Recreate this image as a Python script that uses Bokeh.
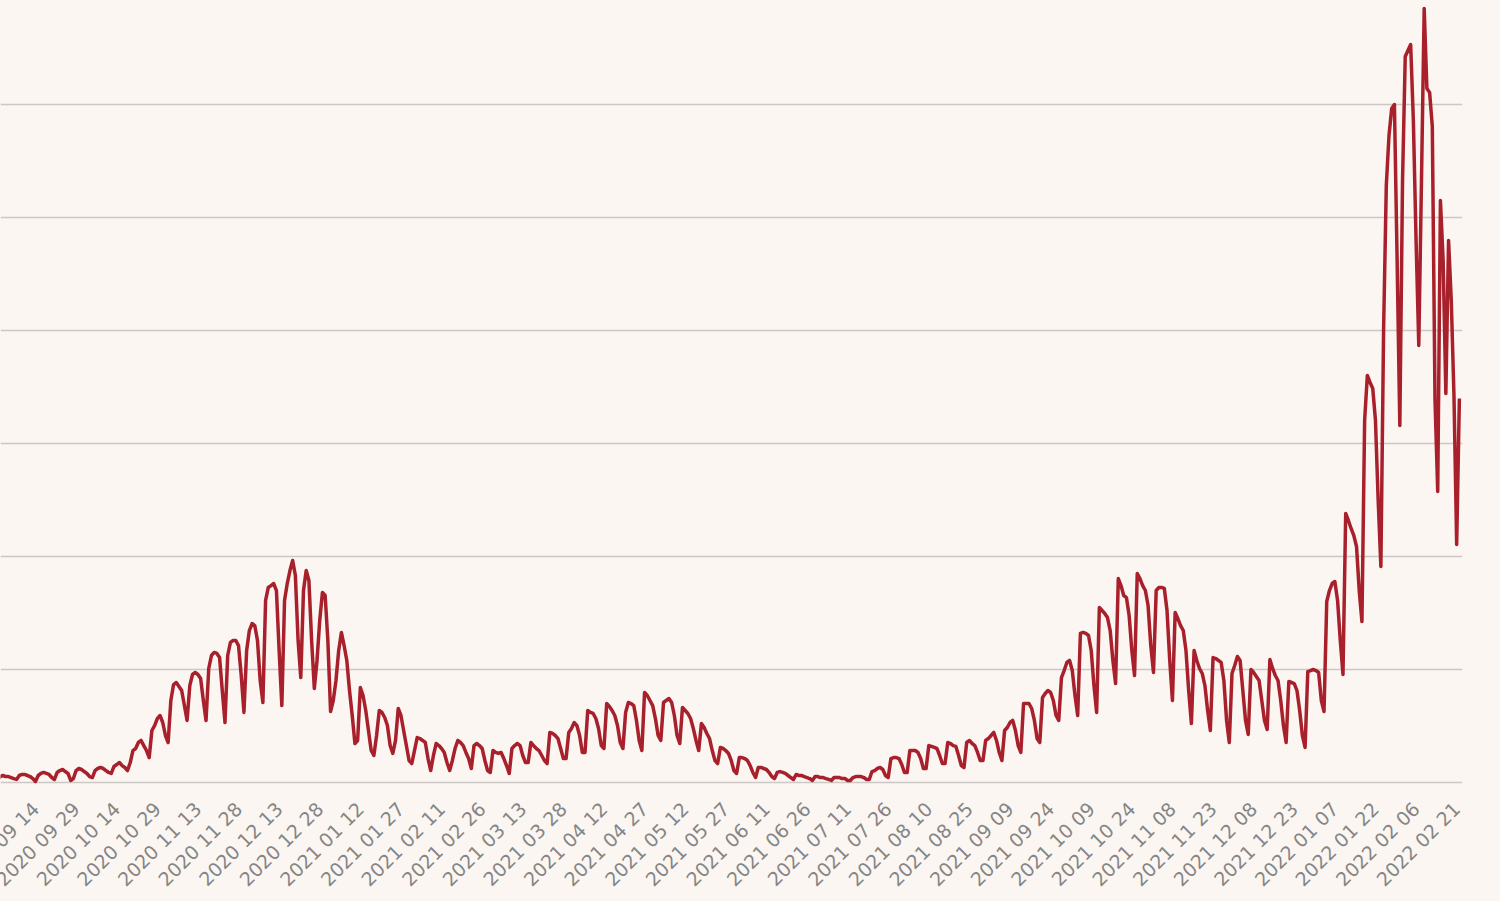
import math
import pandas as pd
from bokeh.plotting import figure
from bokeh.models import Range1d, FixedTicker, DatetimeTickFormatter
from bokeh.embed import file_html
from bokeh.resources import INLINE

# ---------------- data (daily values) ----------------
start_date = "2020-08-31"

cases_2020 = [
    270, 530, 620, 530, 530, 440, 350,
    270, 620, 710, 710, 620, 530, 350,
    90, 620, 800, 890, 800, 710, 440,
    270, 890, 1060, 1150, 970, 800, 180,
    350, 1060, 1240, 1150, 970, 800, 530,
    440, 1060, 1240, 1330, 1240, 1060, 890,
    800, 1420, 1590, 1770, 1500, 1330, 1060,
    1770, 2830, 3010, 3540, 3720, 3270, 2830,
    2210, 4600, 5040, 5660, 5930, 5310, 4160,
    3540, 7260, 8670, 8850, 8500, 8140, 6810,
    5490, 8580, 9560, 9740, 9560, 9200, 7260,
    5490, 10090, 11240, 11510, 11420, 11060, 8140,
    5310, 11240, 12390, 12570, 12570, 12120, 9470,
    6200, 11680, 13450, 14070, 13890, 12570, 9030,
    7080, 16110, 17260, 17430, 17610, 16990, 11680,
    6810, 16110, 17610, 18760, 19650, 18320, 12570,
    9290, 16990, 18760, 17880, 12570, 8320, 10800,
    14340, 16820, 16550, 12570,
]

cases_2021 = [
    6280, 7260, 9030,
    11680, 13280, 12120, 10800, 8140, 5930, 3450,
    3720, 8410, 7700, 6370, 4600, 2830, 2390,
    4160, 6370, 6200, 5750, 5040, 3270, 2570,
    3720, 6550, 5930, 4600, 3270, 1950, 1680,
    2830, 3980, 3890, 3720, 3540, 2120, 1060,
    2390, 3450, 3270, 3010, 2660, 1770, 1060,
    1950, 3010, 3720, 3540, 3270, 2660, 2120,
    1240, 3270, 3450, 3270, 3010, 1950, 1060,
    890, 2830, 2660, 2570, 2660, 2120, 1500,
    800, 3010, 3270, 3450, 3270, 2390, 1770,
    1770, 3540, 3270, 3010, 2830, 2390, 1950,
    1680, 4430, 4340, 4160, 3890, 3010, 2120,
    2120, 4430, 4780, 5310, 5040, 4160, 2660,
    2660, 6370, 6200, 6110, 5660, 4780, 3270,
    3010, 6990, 6730, 6370, 5930, 5040, 3540,
    3010, 6200, 7080, 6990, 6810, 5490, 3720,
    2830, 7970, 7700, 7260, 6810, 5660, 4160,
    3720, 7080, 7260, 7430, 7080, 5930, 4160,
    3450, 6640, 6370, 6110, 5660, 4780, 3720,
    2830, 5220, 4870, 4340, 3890, 2830, 1950,
    1680, 3100, 3010, 2830, 2570, 1950, 1060,
    800, 2210, 2210, 2120, 1950, 1500, 890,
    440, 1330, 1330, 1240, 1150, 885, 530,
    350, 890, 970, 890, 800, 620, 440,
    270, 710, 620, 620, 530, 440, 350,
    180, 530, 530, 440, 440, 350, 270,
    180, 440, 440, 440, 350, 350, 180,
    180, 440, 530, 530, 530, 440, 270,
    270, 970, 1060, 1240, 1330, 1150, 620,
    440, 2120, 2210, 2210, 2120, 1590, 890,
    890, 2830, 2830, 2830, 2660, 2120, 1240,
    1240, 3270, 3190, 3100, 3010, 2390, 1680,
    1680, 3540, 3450, 3270, 3190, 2390, 1500,
    1330, 3540, 3720, 3450, 3270, 2660, 1950,
    1950, 3720, 3890, 4160, 4430, 3720, 2660,
    1950, 4600, 4870, 5310, 5490, 4600, 3270,
    2660, 6990, 6990, 6990, 6550, 5490, 3890,
    3540, 7520, 7880, 8140, 7970, 7260, 5930,
    5490, 9290, 9910, 10620, 10800, 9910, 7700,
    5930, 13190, 13280, 13190, 13010, 11680, 8580,
    6200, 15490, 15220, 14960, 14600, 13450, 10800,
    8760, 18050, 17430, 16550, 16370, 14780, 11680,
    9470, 18500, 18050, 17430, 16990, 15660, 12120,
    9740, 16990, 17260, 17260, 17170, 15220, 10800,
    7260, 15050, 14510, 13890, 13450, 11680, 8140,
    5220, 11680, 10800, 10090, 9650, 8580, 6370,
    4600, 11060, 10970, 10800, 10620, 9030, 5490,
    3540, 9650, 10350, 11150, 10800, 8140, 5490,
    4250, 10000, 9740, 9380, 9030, 7260, 5490,
    4690, 10890, 10090, 9470, 9030, 7260, 5040,
    3540, 8940, 8850, 8760, 8140, 6370, 4160,
    3100, 9820, 9910, 10000, 9910,
]

cases_2022 = [
    9740, 7260,
    6280, 16020, 16990, 17610, 17790, 16110, 12570,
    9560, 23810, 23190, 22480, 21860, 20890, 16990,
    14250, 32040, 36020, 35400, 34870, 32040, 24960,
    19120, 40000, 52830, 57260, 59650, 60000, 46200,
    31590, 53280, 64250, 64780, 65310, 58590, 47970,
    38670, 53280, 68500, 61420, 61070, 58060, 33810,
    25750, 51510, 46200, 34430, 47970, 42660, 34250,
    21060, 33980,
]

tick_labels = [
    "2020-09-14", "2020-09-29", "2020-10-14", "2020-10-29", "2020-11-13",
    "2020-11-28", "2020-12-13", "2020-12-28", "2021-01-12", "2021-01-27",
    "2021-02-11", "2021-02-26", "2021-03-13", "2021-03-28", "2021-04-12",
    "2021-04-27", "2021-05-12", "2021-05-27", "2021-06-11", "2021-06-26",
    "2021-07-11", "2021-07-26", "2021-08-10", "2021-08-25", "2021-09-09",
    "2021-09-24", "2021-10-09", "2021-10-24", "2021-11-08", "2021-11-23",
    "2021-12-08", "2021-12-23", "2022-01-07", "2022-01-22", "2022-02-06",
    "2022-02-21",
]

grid_values = [0, 10000, 20000, 30000, 40000, 50000, 60000]

# ---------------- figure ----------------
values = cases_2020 + cases_2021 + cases_2022
dates = pd.date_range(start_date, periods=len(values), freq="D")

BG = "#fbf6f2"
LEFT_PAD = 50          # canvas space left of the frame, pushed off-page by CSS
PX_PER_DAY = 2.707
x0 = pd.Timestamp("2020-09-14") - pd.Timedelta(days=35 / PX_PER_DAY)
x1 = x0 + pd.Timedelta(days=1462 / PX_PER_DAY)

p = figure(
    x_axis_type="datetime",
    frame_width=1462, frame_height=785,
    x_range=Range1d(x0, x1), y_range=Range1d(-265, 69207),
    output_backend="svg", toolbar_location=None,
    background_fill_color=BG, border_fill_color=BG,
    outline_line_color=None,
    min_border_left=LEFT_PAD, min_border_top=0, min_border_right=33, min_border_bottom=0,
)

p.line(dates, values, line_color="#a8202b", line_width=3.5, line_join="round")

tick_ms = [pd.Timestamp(t).value / 1e6 for t in tick_labels]
p.xaxis.ticker = FixedTicker(ticks=tick_ms)
fmt = "%Y %m %d"
p.xaxis.formatter = DatetimeTickFormatter(
    microseconds=fmt, milliseconds=fmt, seconds=fmt, minsec=fmt, minutes=fmt,
    hourmin=fmt, hours=fmt, days=fmt, months=fmt, years=fmt,
)
p.xaxis.major_label_orientation = math.pi / 4
p.xaxis.major_label_text_font = "DejaVu Sans"
p.xaxis.major_label_text_font_size = "19px"
p.xaxis.major_label_text_color = "#858585"
p.xaxis.major_label_standoff = 14
p.xaxis.axis_line_color = None
p.xaxis.major_tick_line_color = None
p.xaxis.minor_tick_line_color = None

p.yaxis.ticker = FixedTicker(ticks=grid_values)
p.yaxis.visible = False
p.ygrid.grid_line_color = "#cbc8c6"
p.ygrid.grid_line_width = 1.5
p.xgrid.visible = False

html = file_html(p, INLINE)
style = "<style>body{background:%s;margin-left:-%dpx !important;}</style>" % (BG, LEFT_PAD)
html = html.replace("<head>", "<head>" + style, 1)
open("out.html", "w").write(html)
